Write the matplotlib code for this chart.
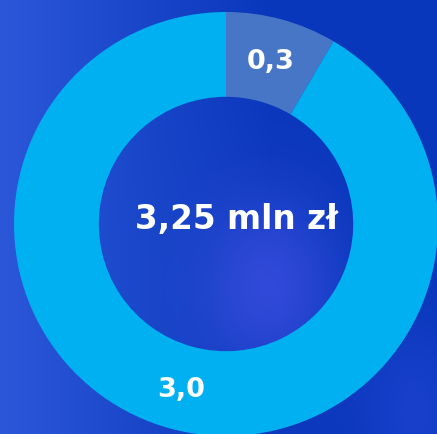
import numpy as np
import matplotlib.pyplot as plt
from matplotlib.colors import to_rgb

# --- Data
values = [0.275, 2.975]
labels = ["0,3", "3,0"]
colors = ["#4876c6", "#00b0f0"]
center_text = "3,25 mln zł"

W, H, DPI = 437, 434, 100
R = 212.0                 # outer radius in px
cx, cy = 226.0, 224.0     # centre in px (from top-left)

fig = plt.figure(figsize=(W / DPI, H / DPI), dpi=DPI)
ax = fig.add_axes([0, 0, 1, 1])
x0, x1 = -cx / R, (W - cx) / R
y0, y1 = -(H - cy) / R, cy / R

# --- Background: blue gradient with a soft violet glow
xx, yy = np.meshgrid(np.linspace(0, 1, W), np.linspace(0, 1, H))
left = np.array(to_rgb("#2c57d9"))
right = np.array(to_rgb("#0937bb"))
t = np.clip(xx * 1.6, 0, 1)[..., None]
bg = left * (1 - t) + right * t
glow = np.exp(-(((xx - 0.62) / 0.16) ** 2 + ((yy - 0.66) / 0.22) ** 2))[..., None]
bg = bg * (1 - 0.55 * glow) + np.array(to_rgb("#5058f0")) * 0.55 * glow
glow2 = np.exp(-(((xx - 0.95) / 0.12) ** 2 + ((yy - 0.95) / 0.2) ** 2))[..., None]
bg = bg * (1 - 0.3 * glow2) + np.array(to_rgb("#3a55f0")) * 0.3 * glow2
ax.imshow(bg, extent=[x0, x1, y0, y1], origin="upper", aspect="auto", zorder=0)

# --- Donut
wedges, _ = ax.pie(values, colors=colors, startangle=90, counterclock=False,
                   radius=1.0, wedgeprops=dict(width=0.4, linewidth=0))
for w in wedges:
    w.set_zorder(2)

total = sum(values)
start = 90.0
for v, lab in zip(values, labels):
    sweep = v / total * 360
    mid = np.deg2rad(start - sweep / 2)
    start -= sweep
    r = 0.8
    ax.text(r * np.cos(mid), r * np.sin(mid) - 0.01, lab, ha="center", va="center",
            color="white", fontsize=19.5, fontweight="bold", family="DejaVu Sans",
            zorder=3)

ax.text(0.05, 0.02, center_text, ha="center", va="center", color="white",
        fontsize=23.5, fontweight="bold", family="DejaVu Sans", zorder=3)

ax.set_aspect("auto")
ax.set_xlim(x0, x1)
ax.set_ylim(y0, y1)
ax.axis("off")

fig.savefig("out.png", dpi=DPI)
